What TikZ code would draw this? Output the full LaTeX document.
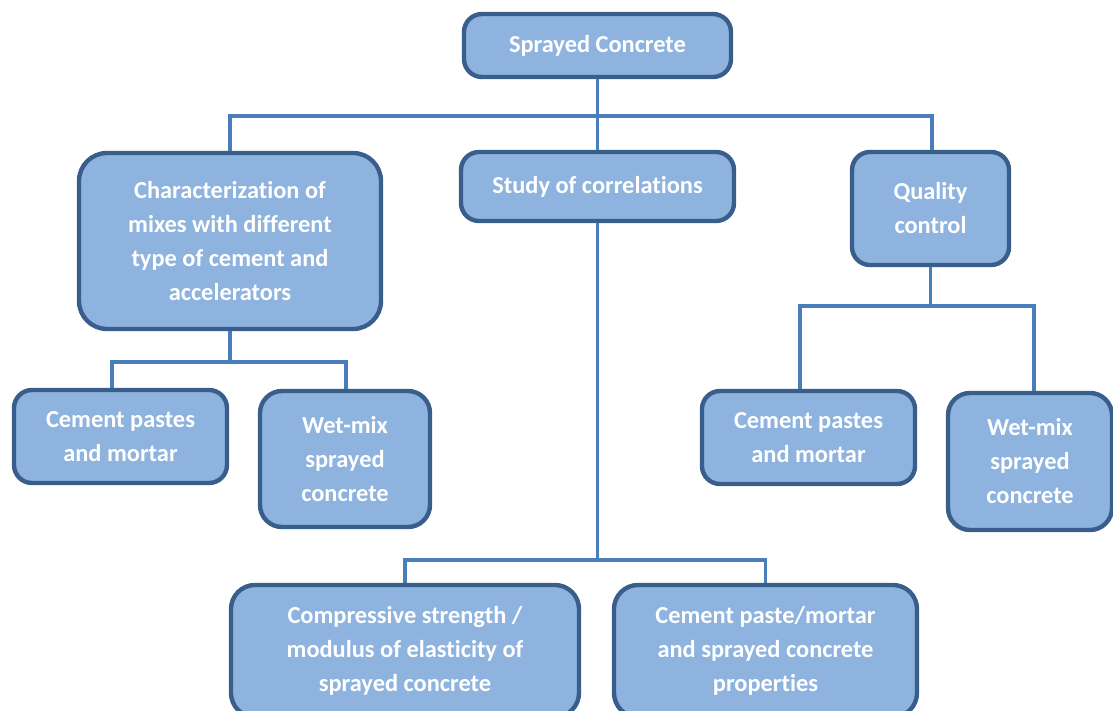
\documentclass[tikz,border=0pt]{standalone}
\usepackage{fontspec}
\setmainfont{Carlito}[Ligatures=NoCommon]
\definecolor{boxfill}{HTML}{8EB3DF}
\definecolor{boxedge}{HTML}{3A5E8C}
\definecolor{wirecol}{HTML}{4A7EBB}
\begin{document}
\begin{tikzpicture}[x=1pt,y=-1pt,
  box/.style={draw=boxedge, fill=boxfill, line width=4.4pt, rounded corners=18pt,
    text=white, font=\bfseries\fontsize{24.4}{34}\selectfont, align=center, inner sep=0pt},
  wire/.style={draw=wirecol, line width=3.2pt}]
\useasboundingbox (0,0) rectangle (1113,711);
\clip (0,0) rectangle (1113,711);

% bus levels
\coordinate (busA) at (0,116);
\coordinate (busB) at (0,362);
\coordinate (busC) at (0,560);
\coordinate (busD) at (0,306);

% top level
\node[box, minimum width=267, minimum height=63] (top) at (597.5,45.5) {Sprayed Concrete};

% second level
\node[box, minimum width=302, minimum height=176, rounded corners=28pt] (char) at (230,241)
  {Characterization of\\mixes with different\\type of cement and\\accelerators};
\node[box, minimum width=273, minimum height=69] (study) at (597.5,186.5) {Study of correlations};
\node[box, minimum width=157, minimum height=113] (quality) at (930.5,208.5) {Quality\\control};

% third level, left branch
\node[box, minimum width=213, minimum height=93] (cpl) at (120.5,436.5) {Cement pastes\\and mortar};
\node[box, minimum width=170, minimum height=136, rounded corners=22pt] (wml) at (345,459) {Wet-mix\\sprayed\\concrete};

% third level, right branch
\node[box, minimum width=213, minimum height=93] (cpr) at (808.5,437.5) {Cement pastes\\and mortar};
\node[box, minimum width=164, minimum height=137, rounded corners=22pt] (wmr) at (1030,461.5) {Wet-mix\\sprayed\\concrete};

% bottom level, centre branch
\node[box, minimum width=348, minimum height=132, rounded corners=24pt] (comp) at (405,651)
  {Compressive strength /\\modulus of elasticity of\\sprayed concrete};
\node[box, minimum width=303, minimum height=132, rounded corners=24pt] (paste) at (765.5,651)
  {Cement paste/mortar\\and sprayed concrete\\properties};

% connectors from the top box
\draw[wire] (top.south) -- (top.south |- busA);
\draw[wire] (char.north) -- (char.north |- busA) -- ([xshift=1.5pt]quality.north |- busA) -- ([xshift=1.5pt]quality.north);
\draw[wire] (study.north) -- (study.north |- busA);

% characterization branch
\draw[wire] (char.south) -- (char.south |- busB);
\draw[wire] ([xshift=-8.5pt]cpl.north) -- ([xshift=-8.5pt]cpl.north |- busB) -- ([xshift=1pt]wml.north |- busB) -- ([xshift=1pt]wml.north);

% correlations branch
\draw[wire] (study.south) -- (study.south |- busC);
\draw[wire] (comp.north) -- (comp.north |- busC) -- (paste.north |- busC) -- (paste.north);

% quality branch
\draw[wire] (quality.south) -- (quality.south |- busD);
\draw[wire] ([xshift=-8.5pt]cpr.north) -- ([xshift=-8.5pt]cpr.north |- busD) -- ([xshift=4pt]wmr.north |- busD) -- ([xshift=4pt]wmr.north);
\end{tikzpicture}
\end{document}
